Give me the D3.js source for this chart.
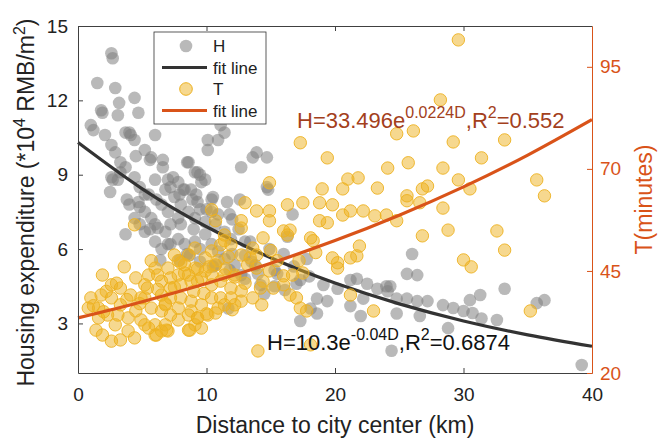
<!DOCTYPE html>
<html>
<head>
<meta charset="utf-8">
<script src="https://cdn.jsdelivr.net/npm/d3@7"></script>
<style>
  body { margin: 0; background: #fff; }
  svg { font-family: "Liberation Sans", Arial, Helvetica, sans-serif; }
</style>
</head>
<body>
<div id="graphic"></div>
<script>
// H points: [distance km, housing expenditure 10^4 RMB/m2]
const hData = [
  [2.6,13.9],[2.7,13.7],[1.5,12.7],[2.9,12.5],[4.4,12.1],[3.2,11.9],[4.7,11.5],[1.8,11.6],[1.9,11.5],[3.1,11.4],
  [1.0,11.0],[1.2,10.8],[3.7,10.7],[4.0,10.7],[4.1,10.6],[4.4,10.4],[2.1,10.6],[6.0,10.6],[2.6,10.2],[2.9,9.9],
  [5.2,10.0],[5.7,9.7],[6.6,9.6],[3.3,9.5],[3.7,9.3],[4.5,9.75],[2.6,8.9],[3.1,8.8],[4.4,8.9],[6.0,8.8],
  [7.0,8.8],[7.8,8.7],[8.3,8.4],[9.1,9.1],[9.5,9.0],[9.6,8.7],[9.9,8.8],[8.6,9.5],[10.1,10.4],[10.1,10.0],
  [10.9,10.4],[11.4,10.7],[11.1,11.0],[12.7,9.3],[13.6,9.7],[14.7,9.7],[14.7,8.5],[13.9,9.9],[14.8,8.4],
  [8.8,8.4],[9.2,8.2],[7.2,8.5],[8.2,8.4],[10.5,8.1],[11.6,7.9],[8.9,8.0],[6.1,8.0],[4.8,7.7],[3.8,8.0],
  [2.5,8.3],[2.7,8.8],[3.3,9.1],[4.8,8.5],[5.6,9.6],[6.6,9.3],[8.5,9.5],[9.3,9.1],[7.4,8.9],
  [4.7,7.9],[5.2,7.5],[4.4,7.25],[5.7,7.25],[6.2,6.85],[5.2,6.7],[6.8,6.7],[7.2,7.0],[7.8,7.25],[8.6,7.5],
  [9.1,7.25],[9.9,7.1],[10.4,7.5],[10.9,7.4],[11.4,6.7],[11.9,6.4],[6.0,6.3],[6.5,6.0],[7.8,6.4],[8.3,6.2],
  [9.1,6.3],[9.9,6.6],[10.4,6.2],[10.9,5.9],[11.4,5.6],[12.2,5.35],[12.7,4.95],[11.7,3.6],[13.0,4.8],[7.0,7.5],
  [8.0,7.8],[9.3,7.9],[10.4,8.0],[5.5,8.2],[6.5,7.8],[7.5,8.1],[8.0,7.0],[9.0,6.8],[10.0,7.6],[12.0,7.2],
  [12.5,6.8],[13.0,6.3],[6.0,7.0],[7.0,6.2],[8.5,5.8],[9.5,5.5],[10.5,5.3],[12.0,5.8],[13.5,5.5],[14.0,5.0],
  [16.7,7.4],[13.4,6.3],[14.9,6.0],[16.0,5.8],[16.8,5.3],[17.8,5.6],[16.3,6.5],[15.5,5.0],[17.0,4.6],[18.0,4.9],
  [15.3,4.5],[14.5,4.2],[26.0,5.8],[25.6,5.0],[26.4,4.95],[19.1,4.55],[20.2,4.4],[21.2,4.75],[21.7,4.8],[22.5,4.6],
  [23.3,4.4],[24.0,4.5],[24.8,4.0],[25.6,4.0],[26.4,3.9],[18.6,4.0],[18.1,3.6],[19.4,3.9],[21.2,3.7],[22.0,3.3],
  [22.2,4.0],[17.3,3.1],[18.6,3.4],[24.8,3.4],[24.4,1.9],[26.6,3.3],[24.3,4.5],[24.1,4.3],[27.2,3.9],[28.4,3.74],
  [29.2,3.62],[30.0,3.5],[30.5,3.94],[31.3,4.15],[30.7,3.42],[31.4,3.2],[32.6,3.14],[35.7,3.82],[36.3,3.94],[28.8,2.81],
  [39.2,1.32],[33.2,4.4],
  [4.0,7.8],[5.2,8.2],[6.8,8.4],[7.9,8.2],[9.5,7.6],[10.7,7.0],[11.8,7.4],[12.6,8.0],[5.6,6.8],[7.2,6.2],
  [8.7,5.75],[9.5,6.0],[10.7,5.35],[11.8,5.15],[13.0,5.75],[13.8,5.35],[14.2,4.55],[15.3,5.15],[16.1,4.35],[17.3,4.75],
  [7.9,5.55],[6.4,5.55],[4.8,7.0],[3.7,6.6]
];

// T points: [distance km, commute time minutes]
const tData = [
  [4.4,56.3],[1.9,44.0],[3.6,46.0],[1.0,38.4],[1.6,35.9],[2.6,38.4],[3.3,36.7],[1.4,30.5],[1.9,29.3],[2.6,27.8],
  [3.3,28.1],[4.4,28.6],[2.9,31.8],[3.9,33.5],[4.5,35.2],[4.1,39.1],[4.5,43.3],[5.2,41.6],[5.7,47.5],[6.0,45.7],
  [7.0,45.7],[7.8,47.5],[8.6,48.9],[9.1,50.6],[9.9,48.2],[10.4,49.9],[11.1,51.4],[11.9,51.4],[12.7,48.9],[13.2,46.5],
  [6.5,42.5],[7.2,43.3],[8.0,41.6],[8.8,42.5],[9.6,43.3],[10.4,44.0],[11.1,42.5],[11.9,40.8],[12.7,40.1],[6.5,39.1],
  [7.2,38.4],[8.0,38.4],[8.8,37.6],[9.6,36.7],[10.4,38.4],[11.1,38.4],[11.9,38.4],[5.7,35.9],[6.5,35.2],[7.2,34.2],
  [5.2,38.4],[6.0,31.8],[6.8,31.8],[6.5,30.3],[6.0,29.3],[7.0,30.3],[8.6,30.5],[9.1,31.8],[9.6,31.0],[8.8,35.2],
  [10.7,34.7],[12.7,37.6],[10.4,60.0],[10.7,57.3],[12.7,57.3],[12.7,55.5],[13.0,61.7],[11.4,53.8],[11.4,52.4],[14.0,25.4],
  [6.1,29.3],[6.9,30.5],[8.7,30.5],
  [13.9,59.7],[14.9,59.7],[14.9,57.3],[16.3,61.2],[17.5,61.7],[18.8,61.7],[19.8,61.2],[20.6,58.7],[21.2,59.7],[22.2,59.7],
  [23.1,58.5],[24.0,58.7],[24.8,57.3],[25.6,62.2],[18.8,57.3],[19.4,56.8],[16.0,54.8],[16.5,55.0],[16.3,53.8],[18.1,53.1],
  [18.3,52.4],[14.4,53.1],[13.6,50.6],[13.9,48.9],[13.4,48.2],[19.8,48.2],[20.2,47.0],[20.2,45.7],[21.7,48.7],[21.9,51.1],
  [21.2,48.2],[13.9,45.7],[14.9,45.0],[16.0,43.8],[16.7,44.0],[17.5,44.5],[14.4,42.5],[14.2,40.8],[15.2,40.8],[16.0,41.6],
  [16.5,39.1],[17.0,38.4],[17.3,35.9],[17.8,35.2],[13.6,38.4],[14.3,36.7],[21.2,39.1],[23.0,35.2],[18.1,26.9],
  [17.3,76.4],[19.4,72.7],[24.8,78.6],[26.1,79.3],[24.1,70.2],[25.7,71.5],[14.9,66.6],[19.0,65.1],[21.0,67.5],[21.8,67.8],
  [20.6,65.1],[23.3,65.3],[25.6,63.4],[26.8,65.1],[29.6,101.6],[28.2,86.9],[29.2,76.6],[33.2,77.1],[31.4,72.7],[28.4,70.2],
  [29.6,67.3],[30.5,65.1],[27.2,65.8],[35.7,67.3],[36.3,63.4],[26.6,61.7],[28.4,60.4],
  [28.8,55.0],[26.8,53.6],[32.6,54.8],[33.2,50.1],[30.0,47.7],[30.6,46.0],[35.2,35.2],
  [2.2,40.0],[3.0,42.0],[3.8,38.0],[4.8,37.0],[5.5,44.0],[6.2,40.5],[6.8,37.0],[7.5,41.0],[8.3,44.5],[9.0,40.0],
  [9.8,39.5],[10.2,46.0],[11.5,45.5],[12.2,43.5],[8.0,47.0],[9.3,45.5],[2.0,35.0],[1.2,36.5],[4.9,33.0],[5.5,31.0],
  [7.8,33.0],[9.3,33.5],[10.0,34.5],[12.0,35.5],[13.0,42.0],[11.7,48.5],[10.9,47.5],[15.5,47.5],[15.0,50.0],[17.2,47.5],
  [18.5,49.5],
  [7.5,48.9],[8.3,46.5],[9.1,45.7],[9.9,45.0],[10.7,46.5],[11.4,44.0],[12.2,44.0],[7.8,44.0],[8.6,44.0],[6.2,44.0],
  [5.4,40.8],[4.9,38.4],[6.8,36.7],[7.8,35.9],[8.6,34.2],[9.3,33.5],[10.1,34.2],[10.9,35.9],[11.4,36.7],[12.2,36.7],
  [3.3,40.8],[2.6,41.6],[1.8,39.1],[3.1,34.2],[2.3,34.2],[1.6,33.5],[0.8,35.9],[3.9,30.3],[5.2,31.8],[9.3,42.5],
  [10.4,41.6],[7.2,40.8]
];

// fit lines
const fitD = [0, 5, 10, 15, 20, 25, 30, 35, 40];
const hFit = [10.3, 8.43, 6.9, 5.65, 4.63, 3.79, 3.1, 2.54, 2.08];
const tFit = [33.5, 37.47, 41.91, 46.88, 52.43, 58.65, 65.6, 73.37, 82.07];

const xTicks = [0, 10, 20, 30, 40];
const hTicks = [3, 6, 9, 12, 15];
const tTicks = [20, 45, 70, 95];

const width = 658, height = 439;
const mLeft = 78, mRight = 592, mTop = 26, mBottom = 373;

const gray = '#808080', yellow = '#EDB120', orange = '#D95319', dark = '#333333', axisCol = '#404040';

const x = d3.scaleLinear().domain([0, 40]).range([mLeft, mRight]);
const yH = d3.scaleLinear().domain([1, 15]).range([mBottom, mTop]);
const yT = d3.scaleLinear().domain([20, 105]).range([mBottom, mTop]);

const svg = d3.select("#graphic").append("svg")
  .attr("width", width)
  .attr("height", height);

// points + fit lines (left axis first, right axis on top)
svg.append("g")
  .selectAll("circle")
  .data(hData)
  .join("circle")
    .attr("cx", d => x(d[0]))
    .attr("cy", d => yH(d[1]))
    .attr("r", 6.3)
    .attr("fill", gray)
    .attr("fill-opacity", 0.55);

const line = (ys, yScale) => d3.line()
  .x((d, i) => x(fitD[i]))
  .y(d => yScale(d))
  .curve(d3.curveNatural)(ys);

svg.append("path")
  .attr("d", line(hFit, yH))
  .attr("fill", "none")
  .attr("stroke", dark)
  .attr("stroke-width", 3.2);

svg.append("g")
  .selectAll("circle")
  .data(tData)
  .join("circle")
    .attr("cx", d => x(d[0]))
    .attr("cy", d => yT(d[1]))
    .attr("r", 6.2)
    .attr("fill", yellow)
    .attr("fill-opacity", 0.5)
    .attr("stroke", yellow)
    .attr("stroke-opacity", 0.9)
    .attr("stroke-width", 1);

svg.append("path")
  .attr("d", line(tFit, yT))
  .attr("fill", "none")
  .attr("stroke", orange)
  .attr("stroke-width", 3.2);

// axes
const bottomAxis = svg.append("g")
  .attr("transform", `translate(0,${mBottom})`)
  .call(d3.axisBottom(x).tickValues(xTicks).tickSize(-5).tickSizeOuter(0).tickPadding(15));

svg.append("g")
  .attr("transform", `translate(0,${mTop})`)
  .call(d3.axisTop(x).tickValues([10, 20, 30]).tickSize(-5).tickSizeOuter(0).tickFormat(""));

const leftAxis = svg.append("g")
  .attr("transform", `translate(${mLeft},0)`)
  .call(d3.axisLeft(yH).tickValues(hTicks).tickSize(-5).tickSizeOuter(0).tickPadding(10));

const rightAxis = svg.append("g")
  .attr("transform", `translate(${mRight},0)`)
  .call(d3.axisRight(yT).tickValues(tTicks).tickSize(-5).tickSizeOuter(0).tickPadding(8));

svg.selectAll(".domain").attr("stroke", axisCol);
svg.selectAll(".tick line").attr("stroke", axisCol);
[bottomAxis, leftAxis].forEach(a => a.selectAll("text")
  .attr("font-size", 19).attr("fill", "#222").attr("font-family", null));
rightAxis.select(".domain").attr("stroke", orange);
rightAxis.selectAll(".tick line").attr("stroke", orange);
rightAxis.selectAll("text").attr("font-size", 19).attr("fill", orange).attr("font-family", null);

// axis labels
svg.append("text")
  .attr("x", (mLeft + mRight) / 2)
  .attr("y", 433)
  .attr("text-anchor", "middle")
  .attr("font-size", 23)
  .attr("fill", "#222")
  .text("Distance to city center (km)");

const ylab = svg.append("text")
  .attr("transform", `translate(34,${(mTop + mBottom) / 2 + 3}) rotate(-90)`)
  .attr("text-anchor", "middle")
  .attr("font-size", 23)
  .attr("fill", "#222");
ylab.append("tspan").text("Housing expenditure (*10");
ylab.append("tspan").attr("font-size", 16).attr("dy", -9).text("4");
ylab.append("tspan").attr("dy", 9).text(" RMB/m");
ylab.append("tspan").attr("font-size", 16).attr("dy", -9).text("2");
ylab.append("tspan").attr("dy", 9).text(")");

svg.append("text")
  .attr("transform", `translate(652,${(mTop + mBottom) / 2}) rotate(-90)`)
  .attr("text-anchor", "middle")
  .attr("font-size", 23)
  .attr("fill", orange)
  .text("T(minutes)");

// fit equations
function equation(px, py, color, a, b, r2) {
  const t = svg.append("text")
    .attr("x", px).attr("y", py)
    .attr("font-size", 22)
    .attr("fill", color);
  t.append("tspan").text(a);
  t.append("tspan").attr("font-size", 16).attr("dy", -10).text(b);
  t.append("tspan").attr("dy", 10).text(",R");
  t.append("tspan").attr("font-size", 16).attr("dy", -10).text("2");
  t.append("tspan").attr("dy", 10).text("=" + r2);
}
equation(297, 128, "#A3401C", "H=33.496e", "0.0224D", "0.552");
equation(267, 350, "#111", "H=10.3e", "-0.04D", "0.6874");

// legend
const lg = svg.append("g");
lg.append("rect")
  .attr("x", 154).attr("y", 32)
  .attr("width", 112).attr("height", 92)
  .attr("fill", "#fff")
  .attr("stroke", "#333")
  .attr("stroke-width", 0.8);

const legendItems = [
  {label: "H", type: "dot", color: gray},
  {label: "fit line", type: "line", color: dark},
  {label: "T", type: "ring", color: yellow},
  {label: "fit line", type: "line", color: orange}
];

legendItems.forEach((d, i) => {
  const cy = 46 + i * 21.5;
  if (d.type == "line") {
    lg.append("line")
      .attr("x1", 162).attr("x2", 207)
      .attr("y1", cy).attr("y2", cy)
      .attr("stroke", d.color).attr("stroke-width", 3.2);
  } else {
    lg.append("circle")
      .attr("cx", 186).attr("cy", cy).attr("r", 6.3)
      .attr("fill", d.color).attr("fill-opacity", d.type == "dot" ? 0.55 : 0.5)
      .attr("stroke", d.type == "dot" ? "none" : d.color);
  }
  lg.append("text")
    .attr("x", 213).attr("y", cy + 6)
    .attr("font-size", 17)
    .attr("fill", "#222")
    .text(d.label);
});
</script>
</body>
</html>
